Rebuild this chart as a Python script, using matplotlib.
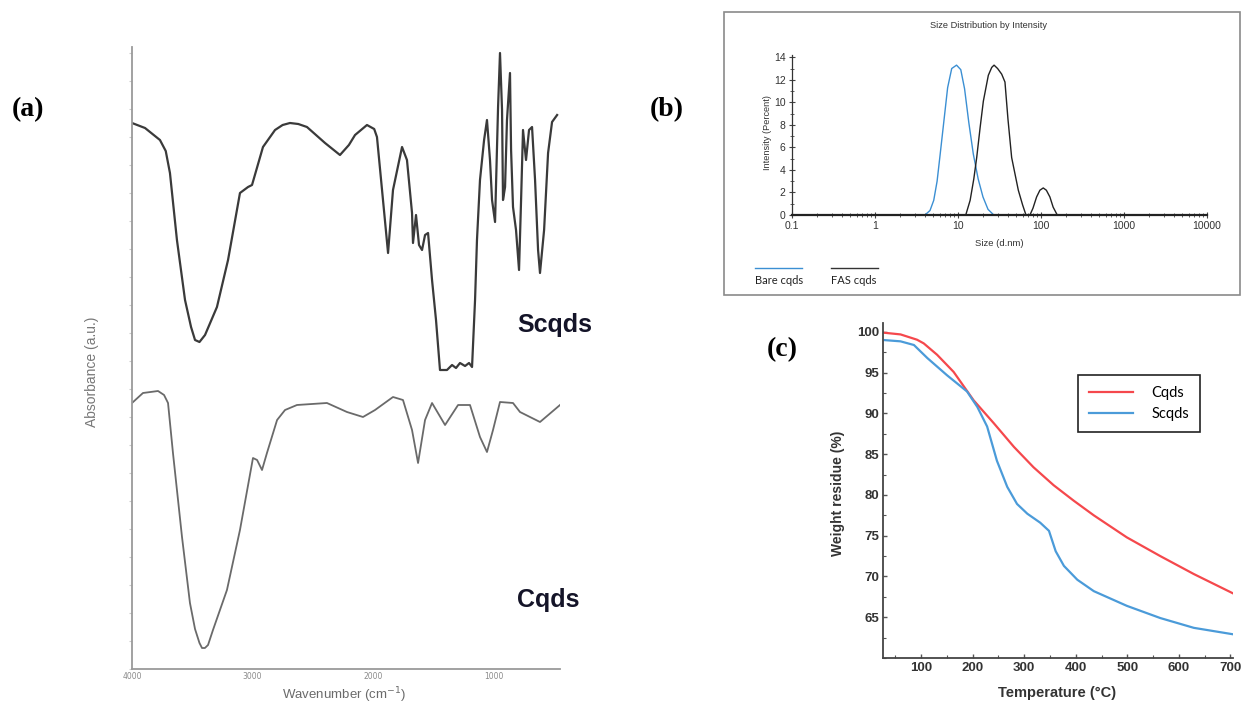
import numpy as np
import matplotlib
matplotlib.use('Agg')
import matplotlib.pyplot as plt
from matplotlib.lines import Line2D
from matplotlib.patches import Rectangle
from matplotlib.ticker import MultipleLocator, LogLocator, NullFormatter

W, H = 1242, 706

# ---- (a) FTIR ----
scqds_wn = [4000, 3892, 3768, 3720, 3685, 3627, 3560, 3510, 3477, 3440, 3394, 3295, 3203,
            3104, 3037, 3004, 2913, 2813, 2750, 2689, 2620, 2548, 2398, 2274, 2200, 2149,
            2050, 1990, 1967, 1917, 1875, 1834, 1759, 1718, 1676, 1668, 1643, 1618, 1593,
            1568, 1543, 1510, 1477, 1444, 1386, 1344, 1311, 1278, 1236, 1203, 1178, 1153,
            1137, 1112, 1078, 1054, 1029, 1012, 987, 962, 946, 929, 921, 904, 888, 863,
            854, 838, 813, 788, 771, 755, 730, 705, 680, 655, 630, 614, 580, 547, 514, 472]
scqds_abs = [5.46, 5.41, 5.29, 5.18, 4.96, 4.29, 3.69, 3.42, 3.29, 3.27, 3.34, 3.62, 4.09,
             4.76, 4.82, 4.84, 5.22, 5.39, 5.44, 5.46, 5.45, 5.42, 5.26, 5.14, 5.24, 5.34,
             5.44, 5.40, 5.32, 4.69, 4.16, 4.79, 5.22, 5.09, 4.56, 4.26, 4.54, 4.24, 4.19,
             4.34, 4.36, 3.89, 3.49, 2.99, 2.99, 3.04, 3.01, 3.06, 3.03, 3.06, 3.02, 3.69,
             4.29, 4.89, 5.29, 5.49, 5.09, 4.69, 4.47, 5.62, 6.16, 5.59, 4.69, 4.82, 5.49,
             5.96, 5.19, 4.62, 4.39, 3.99, 4.69, 5.39, 5.09, 5.39, 5.42, 4.89, 4.19, 3.96,
             4.39, 5.16, 5.47, 5.54]

cqds_wn = [4000, 3909, 3784, 3734, 3701, 3660, 3585, 3519, 3477, 3440, 3419, 3395, 3369,
           3328, 3212, 3104, 2996, 2962, 2921, 2880, 2796, 2730, 2631, 2382, 2216, 2083,
           1983, 1834, 1751, 1676, 1626, 1568, 1510, 1402, 1294, 1195, 1112, 1054, 1004,
           946, 838, 780, 614, 448]
cqds_abs = [2.66, 2.76, 2.78, 2.74, 2.66, 2.16, 1.32, 0.66, 0.40, 0.26, 0.21, 0.21, 0.24,
            0.39, 0.79, 1.39, 2.11, 2.09, 1.99, 2.16, 2.49, 2.59, 2.64, 2.66, 2.57, 2.52,
            2.59, 2.72, 2.69, 2.39, 2.06, 2.49, 2.66, 2.44, 2.64, 2.64, 2.32, 2.17, 2.39,
            2.67, 2.66, 2.57, 2.47, 2.64]
ftir_ticks = [4000, 3000, 2000, 1000]

# ---- (b) DLS ----
bare_size = [4.0, 4.6, 5.1, 5.6, 6.1, 6.8, 7.5, 8.4, 9.6, 10.8, 12.0, 13.5, 15.3, 17.5,
             20.0, 23.0, 27.0]
bare_int = [0, 0.4, 1.3, 3.0, 5.4, 8.5, 11.3, 13.0, 13.3, 12.9, 11.2, 8.2, 5.4, 3.2,
            1.6, 0.5, 0]
fas_size = [12.4, 14, 15.5, 16.8, 18.5, 20.2, 23.2, 25.5, 27.2, 30, 33.6, 36.8, 40,
            44.3, 53.3, 60, 65.9, 73.6, 80, 88.5, 97, 106.4, 116, 128, 140, 157]
fas_int = [0, 1.3, 3.2, 5.1, 7.8, 10.1, 12.4, 13.1, 13.3, 13.0, 12.5, 11.8, 8.5,
           5.1, 2.2, 0.9, 0, 0, 0.6, 1.6, 2.2, 2.4, 2.2, 1.6, 0.7, 0]
dls_xticks = [0.1, 1, 10, 100, 1000, 10000]
dls_xlabels = ['0.1', '1', '10', '100', '1000', '10000']

# ---- (c) TGA ----
cq_temp = [29, 60, 92, 105, 131, 163, 202, 241, 280, 318, 357, 396, 435, 499, 564, 629, 706]
cq_wt = [99.9, 99.7, 99.05, 98.6, 97.2, 95.1, 91.6, 88.8, 85.9, 83.4, 81.2, 79.3, 77.5,
         74.8, 72.5, 70.3, 67.9]
scq_temp = [29, 60, 86, 99, 112, 150, 189, 209, 228, 247, 267, 286, 306, 331, 348, 361,
            377, 403, 435, 499, 564, 629, 706]
scq_wt = [99.0, 98.85, 98.4, 97.6, 96.8, 94.7, 92.7, 90.8, 88.4, 84.2, 81.0, 78.9, 77.7,
          76.6, 75.6, 73.1, 71.3, 69.6, 68.2, 66.4, 64.9, 63.7, 62.9]


def box(l, t, r, b):
    return [l / W, 1 - b / H, (r - l) / W, (b - t) / H]


def fx(x):
    return x / W


def fy(y):
    return 1 - y / H


fig = plt.figure(figsize=(W / 100, H / 100), dpi=100)

# panel (a)
axa = fig.add_axes(box(132, 47, 560, 669))
axa.plot(scqds_wn, scqds_abs, color='#3a3a3a', lw=1.6)
axa.plot(cqds_wn, cqds_abs, color='#6a6a6a', lw=1.3)
axa.set_xlim(4000, 448)
axa.set_ylim(0, 6.22)
for s in ['top', 'right']:
    axa.spines[s].set_visible(False)
for s in ['left', 'bottom']:
    axa.spines[s].set_color('#9a9a9a')
    axa.spines[s].set_linewidth(1.3)
axa.set_xticks(ftir_ticks)
axa.set_xticklabels([str(t) for t in ftir_ticks])
axa.tick_params(axis='x', length=0, labelsize=5.5, labelcolor='#8a8a8a', pad=2)
axa.yaxis.set_major_locator(MultipleLocator(0.28))
axa.yaxis.set_major_formatter(NullFormatter())
axa.tick_params(axis='y', length=2, color='#cccccc', width=0.8)
fig.text(fx(92), fy(372), 'Absorbance (a.u.)', rotation=90, ha='center', va='center',
         fontsize=10, color='#777777', family='Liberation Sans')
fig.text(fx(344), fy(695), 'Wavenumber (cm$^{-1}$)', ha='center', va='center',
         fontsize=9.5, color='#6a6a6a', family='Liberation Sans')
fig.text(fx(517), fy(325), 'Scqds', ha='left', va='center', fontsize=18,
         fontweight='bold', color='#141428', family='Liberation Sans')
fig.text(fx(517), fy(600), 'Cqds', ha='left', va='center', fontsize=18,
         fontweight='bold', color='#141428', family='Liberation Sans')

# panel labels
for lab, x, y in [('(a)', 28, 110), ('(b)', 667, 110), ('(c)', 782, 350)]:
    fig.text(fx(x), fy(y), lab, ha='center', va='center', fontsize=20,
             fontweight='bold', family='Liberation Serif', color='black')

# panel (b)
fig.add_artist(Rectangle((fx(724), fy(295)), (1240 - 724) / W, (295 - 12) / H,
                         transform=fig.transFigure, fill=False, edgecolor='#8a8a8a', lw=1.2))
axb = fig.add_axes(box(792, 55, 1207, 215))
axb.plot(bare_size, bare_int, color='#3b8fd3', lw=1.0)
axb.plot(fas_size, fas_int, color='#222222', lw=1.0)
axb.set_xscale('log')
axb.set_xlim(0.1, 10000)
axb.set_ylim(0, 14.2)
for s in ['top', 'right']:
    axb.spines[s].set_visible(False)
axb.spines['left'].set_color('#333333')
axb.spines['left'].set_linewidth(0.9)
axb.spines['bottom'].set_color('#222222')
axb.spines['bottom'].set_linewidth(1.6)
axb.set_xticks(dls_xticks)
axb.set_xticklabels(dls_xlabels)
axb.xaxis.set_minor_locator(LogLocator(base=10, subs=np.arange(2, 10)))
axb.xaxis.set_minor_formatter(NullFormatter())
axb.yaxis.set_major_locator(MultipleLocator(2))
axb.yaxis.set_minor_locator(MultipleLocator(1))
axb.tick_params(which='major', direction='inout', length=5, width=0.8, color='#444444',
                labelsize=7.5, labelcolor='#333333', pad=2)
axb.tick_params(which='minor', direction='inout', length=3, width=0.6, color='#444444')
for t in axb.get_xticklabels() + axb.get_yticklabels():
    t.set_family('Liberation Sans')
fig.text(fx(988), fy(26), 'Size Distribution by Intensity', ha='center', va='center',
         fontsize=6.7, color='#333333', family='Liberation Sans')
fig.text(fx(999), fy(243), 'Size (d.nm)', ha='center', va='center',
         fontsize=6.8, color='#333333', family='Liberation Sans')
fig.text(fx(767), fy(133), 'Intensity (Percent)', rotation=90, ha='center', va='center',
         fontsize=6.6, color='#333333', family='Liberation Sans')
for x0, x1, col, lab in [(755, 802, '#3b8fd3', 'Bare cqds'), (831, 878, '#333333', 'FAS cqds')]:
    fig.add_artist(Line2D([fx(x0), fx(x1)], [fy(268), fy(268)], transform=fig.transFigure,
                          color=col, lw=1.0))
    fig.text(fx(x0), fy(280), lab, ha='left', va='center', fontsize=8,
             color='#222222', family='Lato')

# panel (c)
axc = fig.add_axes(box(883, 323, 1233, 658))
axc.plot(cq_temp, cq_wt, color='#f5484c', lw=1.6, label='Cqds')
axc.plot(scq_temp, scq_wt, color='#4b9bd9', lw=1.6, label='Scqds')
axc.set_xlim(26, 705)
axc.set_ylim(60, 101.1)
for s in ['top', 'right']:
    axc.spines[s].set_visible(False)
for s in ['left', 'bottom']:
    axc.spines[s].set_color('#444444')
    axc.spines[s].set_linewidth(1.3)
axc.xaxis.set_major_locator(MultipleLocator(100))
axc.xaxis.set_minor_locator(MultipleLocator(50))
axc.yaxis.set_major_locator(MultipleLocator(5))
axc.yaxis.set_minor_locator(MultipleLocator(2.5))
axc.set_yticks([65, 70, 75, 80, 85, 90, 95, 100])
axc.tick_params(which='major', direction='in', length=3, width=1, color='#555555',
                labelsize=9.5, labelcolor='#333333', pad=3)
axc.tick_params(which='minor', direction='in', length=2, width=0.8, color='#555555')
for t in axc.get_xticklabels() + axc.get_yticklabels():
    t.set_fontweight('bold')
    t.set_family('Liberation Sans')
fig.text(fx(838), fy(493), 'Weight residue (%)', rotation=90, ha='center', va='center',
         fontsize=10, fontweight='bold', color='#333333', family='Liberation Sans')
fig.text(fx(1057), fy(693), 'Temperature (°C)', ha='center', va='center',
         fontsize=10.5, fontweight='bold', color='#333333', family='Liberation Sans')
leg = axc.legend(loc='upper left', bbox_to_anchor=(fx(1078), fy(375)),
                 bbox_transform=fig.transFigure, borderaxespad=0, fancybox=False,
                 edgecolor='#222222', framealpha=1, handlelength=3.0, handletextpad=1.3,
                 prop={'family': 'Lato', 'size': 10.5}, labelspacing=0.5,
                 borderpad=0.75)
leg.get_frame().set_linewidth(1.2)

fig.savefig('out.png', dpi=100)
